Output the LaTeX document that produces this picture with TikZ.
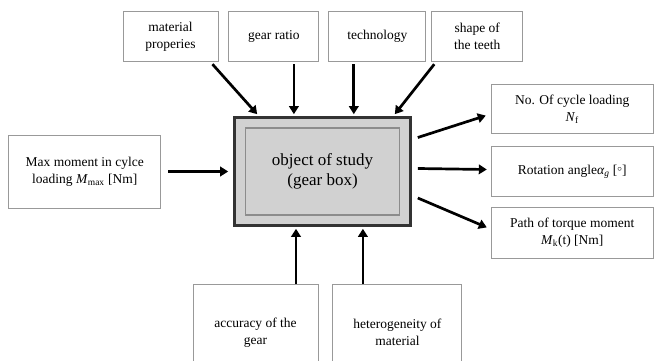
\documentclass[tikz,border=0pt]{standalone}
\usepackage{fontspec}
\setmainfont{Liberation Serif}
\usepackage{tikz}
\usetikzlibrary{positioning,arrows.meta}

\begin{document}
\begin{tikzpicture}[
box/.style={rectangle, draw=gray!80, line width=0.9pt, fill=white, align=center, inner sep=2pt, font=\fontsize{13.5}{17}\selectfont},
mainbox/.style={rectangle, draw=black!80, line width=2.6pt, fill=black!18, minimum width=176pt, minimum height=108pt, align=center, font=\fontsize{17}{20}\selectfont},
innerbox/.style={rectangle, draw=black!45, line width=1.2pt, minimum width=154pt, minimum height=87pt},
arr/.style={line width=2.7pt, -{Triangle[length=8pt,width=9.5pt]}},
]

\useasboundingbox (0,0) rectangle (654pt,360pt);
\clip (0,0) rectangle (654pt,360pt);
\fill[white] (0,0) rectangle (654pt,360pt);

%Object of study
\node[mainbox] (main) at (322.5pt,188.5pt) {object of study\\(gear box)};
\node[innerbox] (inner) at (main.center) {};

%Top boxes
\node[box, minimum width=95pt, minimum height=50pt] (mat) [above=54pt of main, xshift=-152pt] {material\\properies};
\node[box, minimum width=90pt, minimum height=50pt] (gear) [right=10pt of mat] {gear ratio};
\node[box, minimum width=97pt, minimum height=50pt] (tech) [right=9pt of gear] {technology};
\node[box, minimum width=91pt, minimum height=50pt] (shape) [right=5pt of tech] {shape of\\the teeth};

%Left box
\node[box, minimum width=152pt, minimum height=73pt] (maxm) [left=72pt of main] {Max moment in cylce\\loading \textit{M}\textsubscript{max} [Nm]};

%Right boxes
\node[box, minimum width=162pt, minimum height=50pt] (rot) [right=79pt of main] {Rotation angle\textit{α}\textsubscript{\textit{g}} [\raisebox{0.35ex}{$\scriptstyle\circ$}]};
\node[box, minimum width=162pt, minimum height=49pt] (nof) [above=12pt of rot] {No. Of cycle loading\\\textit{N}\textsubscript{f}};
\node[box, minimum width=162pt, minimum height=51pt] (path) [below=10pt of rot] {Path of torque moment\\\textit{M}\textsubscript{k}(t) [Nm]};

%Bottom boxes
\node[box, minimum width=125pt, minimum height=96pt] (acc) [below=57pt of main, xshift=-67pt] {accuracy of the\\gear};
\node[box, minimum width=129pt, minimum height=96pt] (het) [right=14pt of acc] {heterogeneity of\\material};

%Input arrows
\draw[arr] ([xshift=7pt]maxm.east) -- ([xshift=-5pt]main.west);
\draw[arr] ([xshift=-6pt,yshift=-2pt]mat.south east) -- ([xshift=24pt,yshift=2pt]main.north west);
\draw[arr] ([xshift=20pt,yshift=-2pt]gear.south) -- ([xshift=20pt,yshift=2pt]gear.south |- main.north);
\draw[arr] ([xshift=-23.5pt,yshift=-2pt]tech.south) -- ([xshift=-23.5pt,yshift=2pt]tech.south |- main.north);
\draw[arr] ([xshift=3pt,yshift=-2pt]shape.south west) -- ([xshift=-17pt,yshift=2pt]main.north east);
\draw[arr] ([xshift=40.5pt]acc.north) -- ([xshift=40.5pt,yshift=-2pt]acc.north |- main.south);
\draw[arr] ([xshift=-34.5pt]het.north) -- ([xshift=-34.5pt,yshift=-2pt]het.north |- main.south);

%Output arrows
\draw[arr] ([xshift=6pt,yshift=34pt]main.east) -- ([xshift=-5pt,yshift=-6.5pt]nof.west);
\draw[arr] ([xshift=6pt,yshift=3pt]main.east) -- ([xshift=-4pt,yshift=2pt]rot.west);
\draw[arr] ([xshift=6pt,yshift=-26.5pt]main.east) -- ([xshift=-4pt,yshift=5.5pt]path.west);
\end{tikzpicture}
\end{document}
